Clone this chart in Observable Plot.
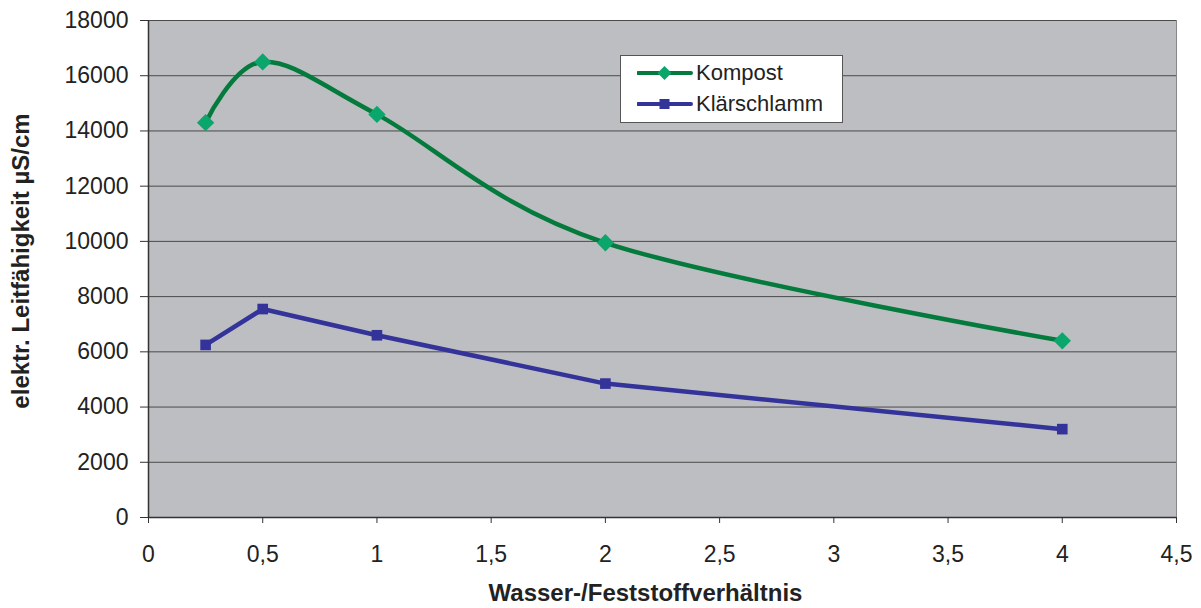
<!DOCTYPE html>
<html><head><meta charset="utf-8">
<script src="https://cdn.jsdelivr.net/npm/d3@7"></script>
<script src="https://cdn.jsdelivr.net/npm/@observablehq/plot@0.6"></script>
<style>
html,body{margin:0;padding:0;background:#fff;}
#wrap{position:relative;width:1201px;height:608px;font-family:"Liberation Sans",Arial,sans-serif;}
#legend{position:absolute;left:620px;top:55px;width:223px;height:68px;background:#fff;border:1px solid #555;box-sizing:border-box;}
.li{position:absolute;left:16px;height:20px;font-size:22px;color:#222;display:flex;align-items:center;}
.li svg{margin-right:3px;}
</style></head><body>
<div id="wrap"><div id="chart"></div><div id="legend"></div></div>
<script>
const xVals = [0.25, 0.5, 1, 2, 4];
const kompost = [14300, 16500, 14600, 9950, 6400];
const klaerschlamm = [6250, 7550, 6600, 4850, 3200];
const xTicks = [0, 0.5, 1, 1.5, 2, 2.5, 3, 3.5, 4, 4.5];
const yTicks = [0, 2000, 4000, 6000, 8000, 10000, 12000, 14000, 16000, 18000];
const seriesNames = ["Kompost", "Klärschlamm"];

const kData = xVals.map((x, i) => ({x, y: kompost[i]}));
const sData = xVals.map((x, i) => ({x, y: klaerschlamm[i]}));
const fmtX = v => String(v).replace(".", ",");
const fmtY = v => String(v);

const chart = Plot.plot({
  width: 1201, height: 608,
  marginLeft: 148, marginRight: 25, marginTop: 20, marginBottom: 91,
  style: {fontFamily: '"Liberation Sans", Arial, sans-serif', fontSize: "23px", color: "#222", background: "#fff"},
  x: {domain: [0, 4.5], label: null},
  y: {domain: [0, 18000], label: null},
  marks: [
    Plot.frame({fill: "#bdbec2", stroke: "#888"}),
    Plot.gridY(yTicks, {stroke: "#4a4a4a", strokeOpacity: 1, strokeWidth: 1}),
    Plot.ruleX([0], {stroke: "#333", strokeWidth: 1.5}),
    Plot.ruleY([0], {stroke: "#333", strokeWidth: 1.5}),
    Plot.line(sData, {x: "x", y: "y", stroke: "#333399", strokeWidth: 4.5}),
    Plot.dot(sData, {x: "x", y: "y", symbol: "square", r: 6, fill: "#333399"}),
    Plot.line(kData, {x: "x", y: "y", stroke: "#047a3c", strokeWidth: 4.5, curve: "cardinal", tension: 0}),
    Plot.dot(kData, {x: "x", y: "y", symbol: "diamond2", r: 7.8, fill: "#0aa66c"}),
    Plot.axisX({ticks: xTicks, tickFormat: fmtX, tickSize: 6, tickPadding: 22, stroke: "#333", label: null, fontSize: 23}),
    Plot.axisY({ticks: yTicks, tickFormat: fmtY, tickSize: 8, tickPadding: 12, stroke: "#333", label: null, fontSize: 23}),
    Plot.text(["Wasser-/Feststoffverhältnis"], {frameAnchor: "bottom", lineAnchor: "middle", textAnchor: "middle", dy: 76, dx: -17, fontWeight: "bold", fontSize: 24}),
    Plot.text(["elektr. Leitfähigkeit µS/cm"], {frameAnchor: "left", textAnchor: "middle", lineAnchor: "middle", dx: -127, dy: -8, rotate: -90, fontWeight: "bold", fontSize: 24})
  ]
});
document.getElementById("chart").appendChild(chart);

const legend = document.getElementById("legend");
const colors = [["#047a3c", "#0aa66c", "diamond"], ["#333399", "#333399", "square"]];
seriesNames.forEach((name, i) => {
  const d = document.createElement("div");
  d.className = "li";
  d.style.top = (7 + i * 31) + "px";
  const [lc, mc, sym] = colors[i];
  const marker = sym === "diamond"
    ? `<polygon points="27.5,3 34.5,10 27.5,17 20.5,10" fill="${mc}"/>`
    : `<rect x="22.5" y="5" width="10" height="10" fill="${mc}"/>`;
  d.innerHTML = `<svg width="56" height="20"><line x1="1" y1="10" x2="54" y2="10" stroke="${lc}" stroke-width="4" stroke-linecap="round"/>${marker}</svg><span>${name}</span>`;
  legend.appendChild(d);
});
</script>
</body></html>
